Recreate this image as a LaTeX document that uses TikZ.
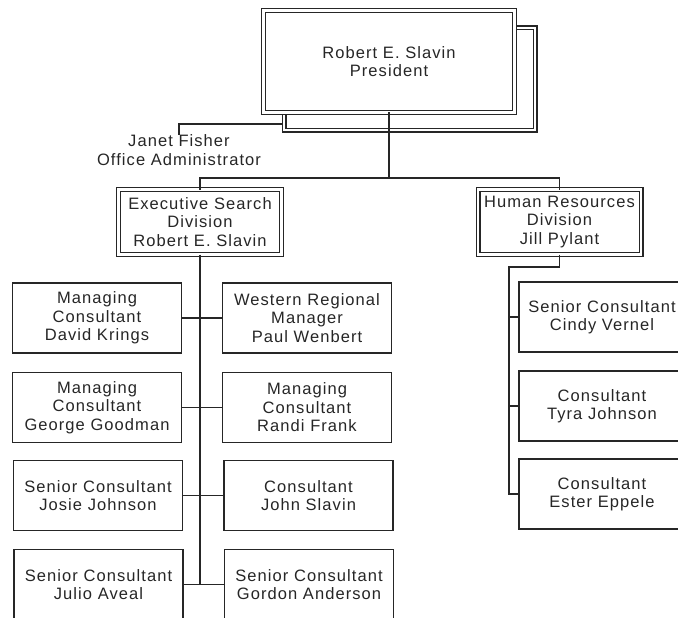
\documentclass[tikz,border=0pt]{standalone}
\usepackage{fontspec}
\setmainfont{Liberation Sans}[LetterSpace=6.5]
\definecolor{ink}{HTML}{262626}
\begin{document}
\begin{tikzpicture}[x=1pt,y=-1pt,
  every node/.style={font=\fontsize{16.5}{18.5}\selectfont, text=ink, align=center, inner sep=0pt, outer sep=0pt},
  dbox/.style={draw=ink, line width=1.2pt, double=white, double distance=2.6pt, fill=white},
  sbox/.style={draw=ink, line width=1.4pt, fill=white, minimum width=169pt, minimum height=70pt},
  hbox/.style={draw=ink, line width=1.4pt, fill=white, minimum width=166pt, minimum height=70pt},
  wire/.style={draw=ink, line width=1.4pt}]
\clip (0,0) rectangle (678,618);
\fill[white] (0,0) rectangle (678,618);

% president with shadow box
\node[dbox, minimum width=251pt, minimum height=102pt] (shadow) at (409.5,79) {};
\node[dbox, minimum width=251pt, minimum height=102pt] (pres) at (389,61.5) {Robert E. Slavin\\President};

% office administrator
\node (janet) at (179,150) {Janet Fisher\\Office Administrator};
\coordinate (jc) at (283,124);
\draw[wire] (janet.north) |- (jc);

% divisions
\node[dbox, minimum width=163pt, minimum height=65pt] (exec) at (200,222) {Executive Search\\Division\\Robert E. Slavin};
\node[dbox, minimum width=163pt, minimum height=65pt] (hr) at (559.5,222) {Human Resources\\Division\\Jill Pylant};

\coordinate (bus) at (200,178);
\draw[wire] (pres.south) -- (pres.south |- bus);
\draw[wire] (exec.north) -- (bus) -| (hr.north);

% executive search staff
\node[sbox] (L1) at (97,318) {Managing\\Consultant\\David Krings};
\node[sbox] (R1) at (307,318) {Western Regional\\Manager\\Paul Wenbert};
\node[sbox] (L2) at (97,407.5) {Managing\\Consultant\\George Goodman};
\node[sbox] (R2) at (307,407.5) {Managing\\Consultant\\Randi Frank};
\node[sbox] (L3) at (98,495.5) {Senior Consultant\\Josie Johnson};
\node[sbox] (R3) at (308.5,495.5) {Consultant\\John Slavin};
\node[sbox] (L4) at (98.5,584.5) {Senior Consultant\\Julio Aveal};
\node[sbox] (R4) at (309,584.5) {Senior Consultant\\Gordon Anderson};

\draw[wire] (exec.south) -- (exec.south |- L4.east);
\foreach \i in {1,2,3,4}{\draw[wire] (L\i.east) -- (R\i.west);}

% human resources staff
\node[hbox] (hr1) at (602,317) {Senior Consultant\\Cindy Vernel};
\node[hbox] (hr2) at (602,406) {Consultant\\Tyra Johnson};
\node[hbox] (hr3) at (602,494) {Consultant\\Ester Eppele};

\coordinate (hk) at (509,267);
\draw[wire] (hr.south) |- (hk) |- (hr3.west);
\draw[wire] (hr1.west) -- (hr1.west -| hk);
\draw[wire] (hr2.west) -- (hr2.west -| hk);
\end{tikzpicture}
\end{document}
